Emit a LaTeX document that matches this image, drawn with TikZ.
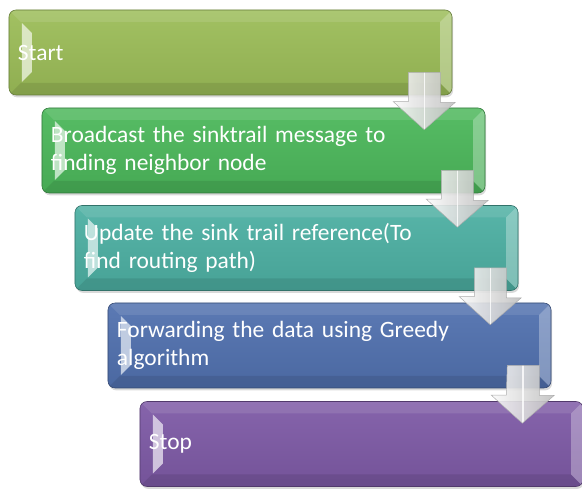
\documentclass[tikz,border=0pt]{standalone}
\usepackage{fontspec}
\setmainfont{Carlito}
\usetikzlibrary{calc, shadows}

\definecolor{stepOlive}{HTML}{9CBD58}
\definecolor{stepGreen}{HTML}{4CB85B}
\definecolor{stepTeal}{HTML}{4DB0A3}
\definecolor{stepBlue}{HTML}{5171AF}
\definecolor{stepPurple}{HTML}{7E5AA6}

\tikzset{
  stepbox/.style={rounded corners=6pt, draw=#1!65!black, line width=.5pt,
    top color=#1!94!white, bottom color=#1!92!black,
    minimum width=13.29cm, minimum height=2.55cm,
    text width=12.75cm, inner xsep=0.27cm, align=left,
    text=white, font=\fontsize{20}{23.5}\selectfont,
    drop shadow={opacity=.3, shadow xshift=1pt, shadow yshift=-2pt},
    path picture={
      % bottom face
      \fill[sharp corners, #1!70!black, opacity=.35] (path picture bounding box.south west)
        -- (path picture bounding box.south east) -- ++(-0.36cm,0.36cm)
        -- ($(path picture bounding box.south west)+(0.36cm,0.36cm)$) -- cycle;
      % right face
      \fill[sharp corners, white, opacity=.3] (path picture bounding box.north east)
        -- (path picture bounding box.south east) -- ++(-0.36cm,0.36cm)
        -- ($(path picture bounding box.north east)+(-0.36cm,-0.36cm)$) -- cycle;
      % top face
      \fill[sharp corners, white, opacity=.1] (path picture bounding box.north west)
        -- (path picture bounding box.north east) -- ++(-0.36cm,-0.36cm)
        -- ($(path picture bounding box.north west)+(0.36cm,-0.36cm)$) -- cycle;
      % left light strip
      \fill[sharp corners, #1!25!white, opacity=.85] ($(path picture bounding box.north west)+(0.39cm,-0.39cm)$)
        -- ++(0.3cm,-0.3cm) -- ($(path picture bounding box.south west)+(0.69cm,0.69cm)$)
        -- ++(-0.3cm,-0.3cm) -- cycle;
    }},
  flowarrow/.style={draw=gray!65, line width=.4pt, fill opacity=.9,
    left color=white!96!gray, right color=gray!50,
    path picture={
      \draw[white, line width=1.2pt, opacity=.8] (path picture bounding box.north)
        -- (path picture bounding box.south);
    }}
}

\begin{document}
\begin{tikzpicture}[x=0.03cm, y=-0.03cm]
\useasboundingbox (0,0) rectangle (582,489);

%the steps
\node[stepbox=stepOlive] (s1) at (230.5,52.5) {Start};
\node[stepbox=stepGreen] (s2) at (263.5,150.5) {Broadcast the sinktrail message to\\finding neighbor node};
\node[stepbox=stepTeal] (s3) at (296.5,248) {Update the sink trail reference(To\\find routing path)};
\node[stepbox=stepBlue] (s4) at (329.5,345.5) {Forwarding the data using Greedy\\algorithm};
\node[stepbox=stepPurple] (s5) at (361.5,444) {Stop};

%the arrows between steps
\path[flowarrow] ($(s1.south east)+(-44,-23)$) -- ++(32,0) -- ++(0,30) -- ++(15,0)
  -- ($(s2.north east)+(-61,22)$) -- ++(-31,-28) -- ++(15,0) -- cycle;
\path[flowarrow] ($(s2.south east)+(-44,-23)$) -- ++(32,0) -- ++(0,30) -- ++(15,0)
  -- ($(s3.north east)+(-61,22)$) -- ++(-31,-28) -- ++(15,0) -- cycle;
\path[flowarrow] ($(s3.south east)+(-44,-23)$) -- ++(32,0) -- ++(0,30) -- ++(15,0)
  -- ($(s4.north east)+(-61,22)$) -- ++(-31,-28) -- ++(15,0) -- cycle;
\path[flowarrow] ($(s4.south east)+(-44,-23)$) -- ++(32,0) -- ++(0,30) -- ++(15,0)
  -- ($(s5.north east)+(-61,22)$) -- ++(-31,-28) -- ++(15,0) -- cycle;
\end{tikzpicture}
\end{document}
